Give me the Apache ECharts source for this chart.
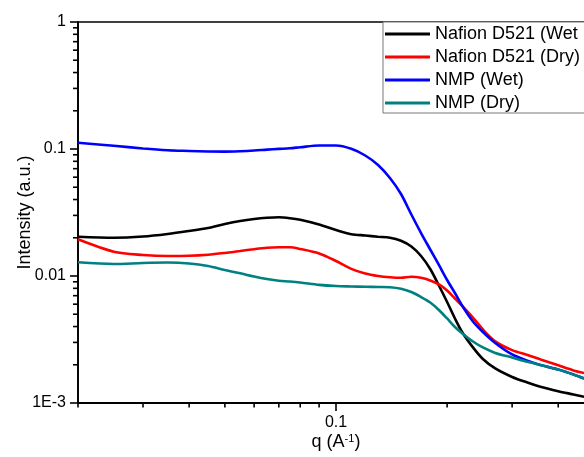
<!DOCTYPE html>
<html>
<head>
<meta charset="utf-8">
<script src="https://cdn.jsdelivr.net/npm/echarts@6/dist/echarts.min.js"></script>
<style>html,body{margin:0;padding:0;background:#fff}#c{width:584px;height:457px}</style>
</head>
<body>
<div id="c"></div>
<script>
var q = [0.02, 0.025, 0.03, 0.035, 0.04, 0.045, 0.05, 0.055, 0.06, 0.065, 0.07, 0.075, 0.08, 0.09, 0.1, 0.11, 0.12, 0.13, 0.14, 0.15, 0.16, 0.17, 0.18, 0.19, 0.2, 0.21, 0.22, 0.235, 0.25, 0.27, 0.3, 0.33, 0.36, 0.4, 0.44, 0.47];
var nafionWet = [0.02039, 0.02003, 0.02046, 0.02142, 0.02262, 0.02388, 0.02567, 0.02711, 0.02811, 0.02873, 0.02900, 0.02853, 0.02771, 0.02544, 0.02303, 0.02134, 0.02084, 0.02039, 0.02003, 0.01893, 0.01707, 0.01437, 0.01135, 0.00842, 0.00624, 0.00463, 0.00359, 0.00274, 0.00222, 0.00187, 0.001602, 0.001450, 0.001337, 0.001239, 0.001167, 0.001119];
var nafionDry = [0.01945, 0.01554, 0.01464, 0.01437, 0.01442, 0.01469, 0.01518, 0.01574, 0.01626, 0.01667, 0.01682, 0.01682, 0.01632, 0.01504, 0.01313, 0.01139, 0.01046, 0.01000, 0.00977, 0.00968, 0.00986, 0.00968, 0.00922, 0.00858, 0.00769, 0.00665, 0.00580, 0.00471, 0.00379, 0.00306, 0.00261, 0.00239, 0.00219, 0.00198, 0.001806, 0.001723];
var nmpWet = [0.1121, 0.1060, 0.1009, 0.0977, 0.0965, 0.0956, 0.0954, 0.0961, 0.0973, 0.0989, 0.1002, 0.1013, 0.1033, 0.1066, 0.1066, 0.1004, 0.0889, 0.0748, 0.0591, 0.0442, 0.0305, 0.0218, 0.01617, 0.01221, 0.00930, 0.00735, 0.00580, 0.00438, 0.00362, 0.00297, 0.00241, 0.00215, 0.00198, 0.001836, 0.001677, 0.001559];
var nmpDry = [0.01282, 0.01243, 0.01266, 0.01277, 0.01255, 0.01199, 0.01115, 0.01050, 0.00991, 0.00947, 0.00917, 0.00905, 0.00889, 0.00852, 0.00834, 0.00827, 0.00822, 0.00819, 0.00815, 0.00793, 0.00748, 0.00683, 0.00618, 0.00540, 0.00463, 0.00397, 0.00353, 0.00305, 0.00274, 0.00248, 0.00228, 0.00211, 0.00198, 0.001836, 0.001677, 0.001559];
var names = ['Nafion D521 (Wet', 'Nafion D521 (Dry)', 'NMP (Wet)', 'NMP (Dry)'];
var colors = ['#000000', '#ff0000', '#0000ff', '#008080'];
var xTickVals = [0.02,0.03,0.04,0.05,0.06,0.07,0.08,0.09,0.1,0.2,0.3,0.4,0.5];
var yTickVals = [0.001,0.002,0.003,0.004,0.005,0.006,0.007,0.008,0.009,0.01,0.02,0.03,0.04,0.05,0.06,0.07,0.08,0.09,0.1,0.2,0.3,0.4,0.5,0.6,0.7,0.8,0.9,1];

function pairs(ys){ return q.map(function(v,i){ return [v, ys[i]]; }); }
function isDecade(v){ var l = Math.log10(v); return Math.abs(l - Math.round(l)) < 1e-6; }
function yLabel(v){
  if (!isDecade(v)) return '';
  var e = Math.round(Math.log10(v));
  if (e === 0) return '1';
  if (e === -1) return '0.1';
  if (e === -2) return '0.01';
  return '1E' + e;
}

var chart = echarts.init(document.getElementById('c'));
var allData = [nafionWet, nafionDry, nmpWet, nmpDry];
var zs = [5, 6, 7, 8];
var series = allData.map(function(d, i){
  return {
    name: names[i], type: 'line', data: pairs(d), smooth: 0.3, symbol: 'none',
    lineStyle: {color: colors[i], width: 2.6}, itemStyle: {color: colors[i]}, z: zs[i]
  };
});
chart.setOption({
  animation: false,
  textStyle: {fontFamily: 'Liberation Sans, Arial, sans-serif'},
  grid: {left: 78, top: 22, width: 516, height: 381, show: true, borderColor: '#000', borderWidth: 1.5, outerBoundsMode: 'none', containLabel: false},
  legend: {
    orient: 'vertical', left: 383, top: 22, data: names,
    itemWidth: 45, itemHeight: 14, itemGap: 5,
    padding: [3, 200, 1, 2],
    borderColor: '#777', borderWidth: 1, backgroundColor: '#fff',
    textStyle: {fontSize: 18, color: '#000', fontFamily: 'Liberation Sans, Arial, sans-serif'},
    icon: 'path://M0,0 L45,0 L45,3 L0,3 Z'
  },
  xAxis: {
    type: 'log', min: 0.02, max: 0.5, logBase: 10,
    axisLine: {lineStyle: {color: '#000', width: 1.8}},
    axisTick: {show: false}, splitLine: {show: false},
    axisLabel: {color: '#000', fontSize: 16, margin: 12, formatter: function(v){ return isDecade(v) ? String(+v.toPrecision(3)) : ''; }},
    name: 'q (A{sup|-1})', nameLocation: 'middle', nameGap: 30, nameMoveOverlap: false,
    nameTextStyle: {color: '#000', fontSize: 18, rich: {sup: {fontSize: 11, verticalAlign: 'top', padding: [0,0,8,0]}}}
  },
  yAxis: {
    type: 'log', min: 0.001, max: 1, logBase: 10,
    axisLine: {lineStyle: {color: '#000', width: 1.8}},
    axisTick: {show: false}, splitLine: {show: false},
    axisLabel: {color: '#000', fontSize: 16, margin: 12, formatter: yLabel},
    name: 'Intensity (a.u.)', nameLocation: 'middle', nameGap: 44, nameMoveOverlap: false,
    nameTextStyle: {color: '#000', fontSize: 18}
  },
  series: series
});

// axis ticks placed through the axes' own scales
var g = [];
xTickVals.forEach(function(v){
  var x = chart.convertToPixel({xAxisIndex: 0}, v);
  var y0 = chart.convertToPixel({yAxisIndex: 0}, 0.001);
  var len = isDecade(v) ? 8 : 4.5;
  g.push({type: 'line', shape: {x1: x, y1: y0, x2: x, y2: y0 + len}, style: {stroke: '#000', lineWidth: 1.6}, silent: true});
});
yTickVals.forEach(function(v){
  var y = chart.convertToPixel({yAxisIndex: 0}, v);
  var x0 = chart.convertToPixel({xAxisIndex: 0}, 0.02);
  var len = isDecade(v) ? 8 : 5;
  g.push({type: 'line', shape: {x1: x0 - len, y1: y, x2: x0, y2: y}, style: {stroke: '#000', lineWidth: 1.6}, silent: true});
});
chart.setOption({graphic: g});
</script>
</body>
</html>
